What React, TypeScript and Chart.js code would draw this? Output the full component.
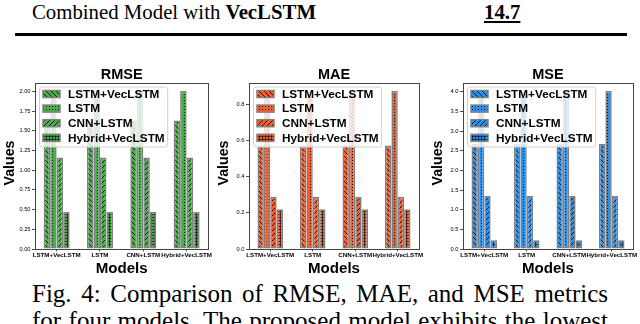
import React, { useEffect, useRef } from 'react';
import { Chart, registerables } from 'chart.js';
Chart.register(...registerables);

// ---- data ----
const modelNames = ['LSTM+VecLSTM', 'LSTM', 'CNN+LSTM', 'Hybrid+VecLSTM'];
const seriesNames = ['LSTM+VecLSTM', 'LSTM', 'CNN+LSTM', 'Hybrid+VecLSTM'];
const hatchKinds = ['back', 'dot', 'fwd', 'plus'];

const rmseLstmVec = [1.63, 1.63, 1.63, 1.63];
const rmseLstm = [2.005, 2.005, 2.005, 2.005];
const rmseCnn = [1.16, 1.16, 1.16, 1.16];
const rmseHybrid = [0.47, 0.47, 0.47, 0.47];

const maeLstmVec = [0.571, 0.571, 0.571, 0.571];
const maeLstm = [0.873, 0.873, 0.873, 0.873];
const maeCnn = [0.288, 0.288, 0.288, 0.288];
const maeHybrid = [0.22, 0.22, 0.22, 0.22];

const mseLstmVec = [2.67, 2.67, 2.67, 2.67];
const mseLstm = [4.02, 4.02, 4.02, 4.02];
const mseCnn = [1.345, 1.345, 1.345, 1.345];
const mseHybrid = [0.222, 0.222, 0.222, 0.222];

const rmseTicks = [0, 0.25, 0.5, 0.75, 1.0, 1.25, 1.5, 1.75, 2.0];
const maeTicks = [0, 0.2, 0.4, 0.6, 0.8];
const mseTicks = [0, 0.5, 1.0, 1.5, 2.0, 2.5, 3.0, 3.5, 4.0];

const FONT = 'Liberation Sans';

// font size such that `text` renders `target` px wide
function fitSize(text: string, target: number, bold: boolean): number {
  const c = document.createElement('canvas');
  const g = c.getContext('2d')!;
  g.font = `${bold ? 'bold ' : ''}20px "${FONT}"`;
  const w = g.measureText(text).width;
  return Math.round((20 * target) / w * 10) / 10;
}

function makeHatch(ctx: CanvasRenderingContext2D, color: string, kind: string): any {
  const s = kind === 'dot' ? 3 : kind === 'plus' ? 3 : 5;
  const c = document.createElement('canvas');
  c.width = s;
  c.height = s;
  const g = c.getContext('2d')!;
  g.fillStyle = color;
  g.fillRect(0, 0, s, s);
  g.strokeStyle = '#000';
  g.fillStyle = '#000';
  g.lineWidth = 0.9;
  if (kind === 'back') {
    g.beginPath();
    for (const o of [-s, 0, s]) {
      g.moveTo(o, 0);
      g.lineTo(o + s, s);
    }
    g.stroke();
  } else if (kind === 'fwd') {
    g.beginPath();
    for (const o of [-s, 0, s]) {
      g.moveTo(o, s);
      g.lineTo(o + s, 0);
    }
    g.stroke();
  } else if (kind === 'dot') {
    g.globalAlpha = 0.85;
    g.fillRect(1, 1, 1, 1);
  } else if (kind === 'plus') {
    g.globalAlpha = 0.6;
    g.fillRect(0, 1, s, 1);
    g.fillRect(1, 0, 1, s);
  }
  return ctx.createPattern(c, 'repeat');
}

const decorPlugin = {
  id: 'decor',
  afterDatasetsDraw(chart: any) {
    const o = chart.options.plugins.decor;
    const ca = chart.chartArea;
    const ctx = chart.ctx as CanvasRenderingContext2D;
    ctx.save();
    // frame
    ctx.strokeStyle = '#444';
    ctx.lineWidth = 1;
    ctx.strokeRect(Math.round(ca.left) + 0.5, Math.round(ca.top) + 0.5, Math.round(ca.right - ca.left), Math.round(ca.bottom - ca.top));
    // titles
    ctx.fillStyle = '#000';
    ctx.textAlign = 'center';
    ctx.textBaseline = 'middle';
    ctx.font = `bold ${o.sizes.title}px "${FONT}"`;
    ctx.fillText(o.title, (ca.left + ca.right) / 2, ca.top - 8.5);
    ctx.font = `bold ${o.sizes.xTitle}px "${FONT}"`;
    ctx.fillText(o.xTitle, (ca.left + ca.right) / 2, ca.bottom + 19.5);
    ctx.save();
    ctx.font = `bold ${o.sizes.yTitle}px "${FONT}"`;
    ctx.translate(ca.left - 25, (ca.top + ca.bottom) / 2 - 3);
    ctx.rotate(-Math.PI / 2);
    ctx.fillText(o.yTitle, 0, 0);
    ctx.restore();
    ctx.restore();
  },
  afterDraw(chart: any) {
    const o = chart.options.plugins.decor;
    const ca = chart.chartArea;
    const ctx = chart.ctx as CanvasRenderingContext2D;
    const ds = chart.data.datasets;
    ctx.save();
    ctx.font = `bold ${o.sizes.legend}px "${FONT}"`;
    const textX = ca.left + 33;
    let maxW = 0;
    ds.forEach((d: any) => {
      maxW = Math.max(maxW, ctx.measureText(d.label).width);
    });
    const bx = ca.left + 4.5;
    const by = ca.top + 4;
    const bw = textX + maxW + 3 - bx;
    const bh = 60;
    ctx.beginPath();
    (ctx as any).roundRect(bx, by, bw, bh, 3);
    ctx.fillStyle = 'rgba(255,255,255,0.8)';
    ctx.fill();
    ctx.strokeStyle = '#d0d0d0';
    ctx.lineWidth = 1;
    ctx.stroke();
    ds.forEach((d: any, i: number) => {
      const cy = ca.top + 11 + i * 14.6;
      ctx.fillStyle = d.backgroundColor;
      ctx.fillRect(ca.left + 8, cy - 3.5, 17, 7);
      ctx.strokeStyle = '#808080';
      ctx.lineWidth = 1.5;
      ctx.strokeRect(ca.left + 8, cy - 3.5, 17, 7);
      ctx.fillStyle = '#000';
      ctx.textAlign = 'left';
      ctx.textBaseline = 'middle';
      ctx.fillText(d.label, textX, cy + 0.5);
    });
    ctx.restore();
  },
};

type MetricProps = {
  left: number;
  width: number;
  yWidth: number;
  padRight: number;
  title: string;
  series: number[][];
  ticks: number[];
  decimals: number;
  color: string;
};

function MetricChart(p: MetricProps) {
  const ref = useRef<HTMLCanvasElement>(null);
  useEffect(() => {
    const canvas = ref.current!;
    const ctx = canvas.getContext('2d')!;
    const maxVal = Math.max(...p.series.map((s) => Math.max(...s)));
    const sizes = {
      title: fitSize('MSE', 31.5, true),
      xTitle: fitSize('Models', 52, true),
      yTitle: fitSize('Values', 45, true),
      legend: fitSize('Hybrid+VecLSTM', 97, true),
      xTick: fitSize('LSTM+VecLSTM', 48, true),
      yTick: fitSize('2.00', 11, false),
    };
    const chart = new Chart(ctx, {
      type: 'bar',
      data: {
        labels: modelNames,
        datasets: p.series.map((vals, i) => ({
          label: seriesNames[i],
          data: vals,
          backgroundColor: makeHatch(ctx, p.color, hatchKinds[i]),
          borderColor: '#808080',
          borderWidth: 1.6,
          borderSkipped: false,
          barPercentage: 1.0,
          categoryPercentage: 0.6,
        })),
      },
      options: {
        animation: false,
        responsive: false,
        devicePixelRatio: 1,
        layout: { padding: { top: 23, right: p.padRight, bottom: 0, left: 0 } },
        plugins: {
          legend: { display: false },
          tooltip: { enabled: false },
          decor: { title: p.title, xTitle: 'Models', yTitle: 'Values', sizes },
        } as any,
        scales: {
          x: {
            offset: true,
            grid: { offset: false, drawOnChartArea: false, drawTicks: true, tickLength: 2.5, color: '#222', lineWidth: 0.8 },
            border: { display: false },
            ticks: {
              autoSkip: false,
              maxRotation: 0,
              minRotation: 0,
              padding: 0.5,
              color: '#000',
              font: { family: FONT, size: sizes.xTick, weight: 'bold' },
            },
            afterFit: (s: any) => {
              s.height = 27;
            },
          },
          y: {
            min: 0,
            max: maxVal * 1.05,
            grid: { drawOnChartArea: false, drawTicks: true, tickLength: 3, color: '#222', lineWidth: 0.8 },
            border: { display: false },
            afterBuildTicks: (s: any) => {
              s.ticks = p.ticks.map((v) => ({ value: v }));
            },
            ticks: {
              padding: 1.5,
              color: '#000',
              font: { family: FONT, size: sizes.yTick },
              callback: (v: any) => Number(v).toFixed(p.decimals),
            },
            afterFit: (s: any) => {
              s.width = p.yWidth;
            },
          },
        },
      } as any,
      plugins: [decorPlugin],
    });
    return () => chart.destroy();
  }, []);
  return (
    <canvas
      ref={ref}
      width={p.width}
      height={216}
      style={{ position: 'absolute', left: p.left, top: 60, width: p.width, height: 216, display: 'block' }}
    />
  );
}

export default function App() {
  useEffect(() => {
    document.body.style.margin = '0';
  }, []);
  const serif = '"Liberation Serif", "Times New Roman", serif';
  return (
    <div style={{ position: 'relative', width: 640, height: 324, overflow: 'hidden', background: '#fff', fontFamily: serif }}>
      <div style={{ position: 'absolute', left: 32, top: 0, fontSize: 20.8, lineHeight: '24px', whiteSpace: 'nowrap' }}>
        Combined Model with <b>VecLSTM</b>
      </div>
      <div style={{ position: 'absolute', left: 484, top: 0, fontSize: 20.8, lineHeight: '24px', fontWeight: 'bold', textDecoration: 'underline' }}>
        14.7
      </div>
      <div style={{ position: 'absolute', left: 15, top: 33, width: 612, height: 2.5, background: '#000' }} />
      <MetricChart left={0} width={213} yWidth={35} padRight={4} title="RMSE" series={[rmseLstmVec, rmseLstm, rmseCnn, rmseHybrid]} ticks={rmseTicks} decimals={2} color="#44b044" />
      <MetricChart left={213} width={213} yWidth={36} padRight={7} title="MAE" series={[maeLstmVec, maeLstm, maeCnn, maeHybrid]} ticks={maeTicks} decimals={1} color="#ff5a26" />
      <MetricChart left={426} width={214} yWidth={37} padRight={7} title="MSE" series={[mseLstmVec, mseLstm, mseCnn, mseHybrid]} ticks={mseTicks} decimals={1} color="#2191f5" />
      <div style={{ position: 'absolute', left: 32, top: 280, width: 576, fontSize: 25, lineHeight: '27px', textAlign: 'justify', textAlignLast: 'justify' as any, whiteSpace: 'nowrap' }}>
        Fig. 4: Comparison of RMSE, MAE, and MSE metrics
      </div>
      <div style={{ position: 'absolute', left: 32, top: 307, width: 576, fontSize: 25, lineHeight: '27px', textAlign: 'justify', textAlignLast: 'justify' as any }}>
        for four models. The proposed model exhibits the lowest
      </div>
    </div>
  );
}
